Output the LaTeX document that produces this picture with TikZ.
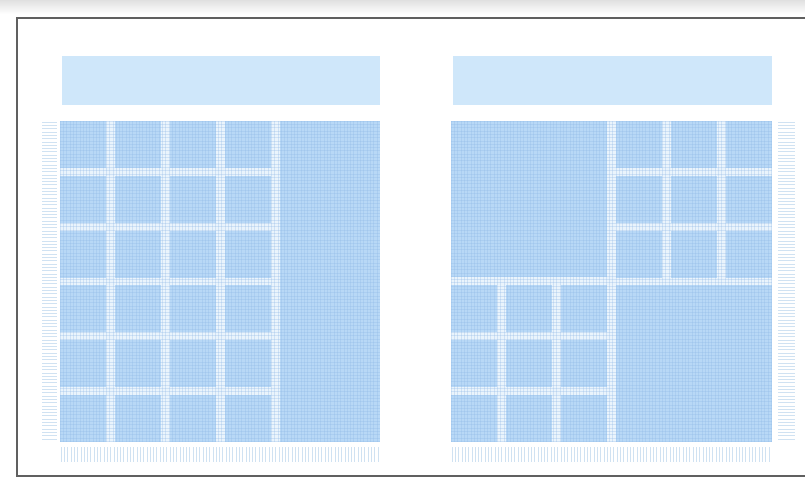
\documentclass[tikz,border=0pt]{standalone}
\definecolor{hdr}{HTML}{CFE7FA}
\definecolor{cellc}{HTML}{B8D8F6}
\definecolor{gut}{HTML}{EAF4FC}
\definecolor{gl}{HTML}{8FB8E6}
\definecolor{tickc}{HTML}{D0E2F2}
\definecolor{framec}{HTML}{606060}
\tikzset{
  cellbox/.style={fill=cellc},
  gridline/.style={draw=gl, opacity=.3, line width=.45pt},
  tickline/.style={draw=tickc, line width=.6pt}
}
\begin{document}
\begin{tikzpicture}[x=1pt,y=-1pt]
\useasboundingbox (0,0) rectangle (805,479);
\fill[white] (0,0) rectangle (805,479);
\shade[top color=black!12, bottom color=white] (0,0) rectangle (805,14);
\draw[framec, line width=1.1pt] (805,18) -- (17,18) -- (17,476) -- (805,476);

% ---------- left panel ----------
\fill[hdr] (62,56) rectangle (380,105);
\fill[gut] (60,121) rectangle (380,442);
\foreach \i in {0,...,3}
  \foreach \j in {0,...,5}
    \fill[cellbox] ({60+\i*55},{121+\j*54.8}) rectangle ++(46,47);
\fill[cellbox] (280,121) rectangle (380,442);
\foreach \k in {0,...,96}
  \draw[gridline] ({60+\k*3.3},121) -- ++(0,321);
\foreach \k in {0,...,97}
  \draw[gridline] (60,{121+\k*3.3}) -- ++(320,0);
\foreach \k in {0,...,96}
  \draw[tickline] (42,{122+\k*3.3}) -- (57,{122+\k*3.3});
\foreach \k in {0,...,96}
  \draw[tickline] ({61+\k*3.3},447) -- ({61+\k*3.3},462);

% ---------- right panel ----------
\fill[hdr] (453,56) rectangle (772,105);
\fill[gut] (451,121) rectangle (772,442);
\fill[cellbox] (451,121) rectangle (606.5,277);
\foreach \i in {3,4,5}
  \foreach \j in {0,1,2}
    \fill[cellbox] ({451+\i*55},{121+\j*54.8}) rectangle ++(45.5,47);
\foreach \i in {0,1,2}
  \foreach \j in {3,4,5}
    \fill[cellbox] ({451+\i*55},{121+\j*54.8}) rectangle ++(45.5,47);
\fill[cellbox] (616,285.4) rectangle (772,442);
\foreach \k in {0,...,97}
  \draw[gridline] ({451+\k*3.3},121) -- ++(0,321);
\foreach \k in {0,...,97}
  \draw[gridline] (451,{121+\k*3.3}) -- ++(321,0);
\foreach \k in {0,...,96}
  \draw[tickline] (778,{122+\k*3.3}) -- (795,{122+\k*3.3});
\foreach \k in {0,...,96}
  \draw[tickline] ({452+\k*3.3},447) -- ({452+\k*3.3},462);
\end{tikzpicture}
\end{document}
